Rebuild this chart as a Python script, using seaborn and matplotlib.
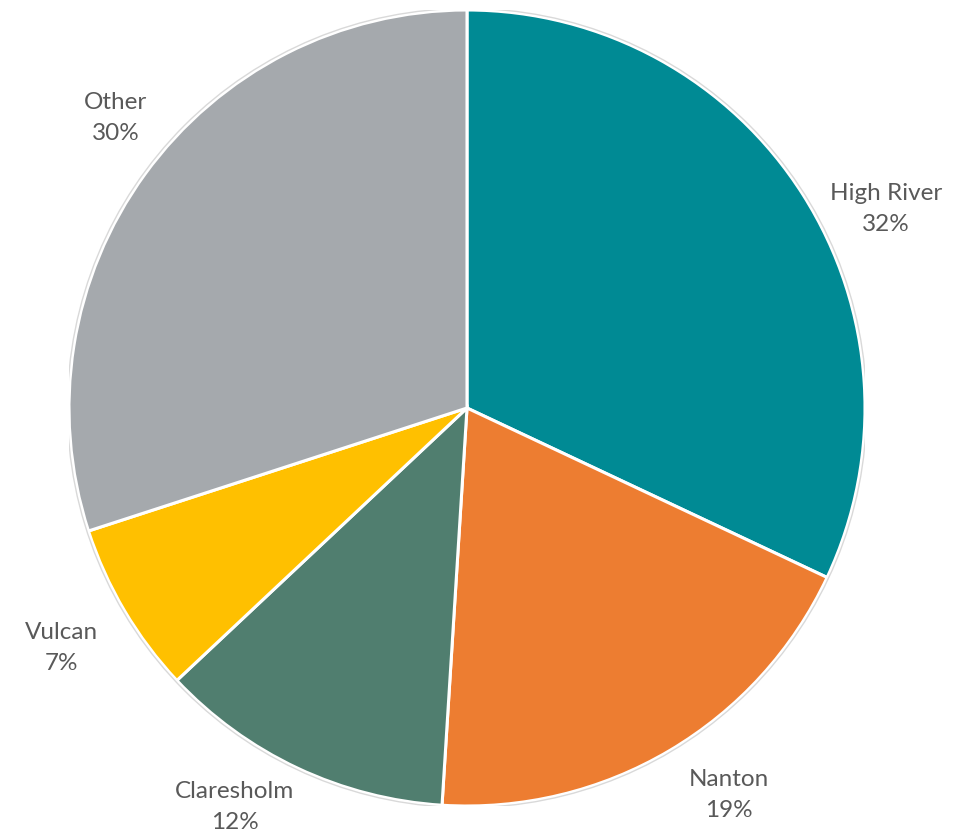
import matplotlib
matplotlib.use("Agg")
import matplotlib.pyplot as plt
import seaborn as sns
import numpy as np

# dane z wykresu
towns = ["High River", "Nanton", "Claresholm", "Vulcan", "Other"]
shares = [32, 19, 12, 7, 30]
colors = ["#008A94", "#ED7D31", "#507E6F", "#FFC000", "#A5A9AD"]

# drobne przesuniecia etykiet (kat w stopniach, odleglosc od srodka)
label_nudge = [(-7, 1.165), (3.5, 1.175), (-5, 1.16), (0, 1.185), (-3.5, 1.145)]

sns.set_theme(style="white")
plt.rcParams["font.family"] = ["Lato", "DejaVu Sans"]

fig = plt.figure(figsize=(9.69, 8.35), dpi=100)
ax = fig.add_axes([69 / 969, 29 / 835, 796 / 969, 796 / 835])

wedges, _ = ax.pie(shares, colors=sns.color_palette(colors), startangle=90,
                   counterclock=False, radius=1,
                   wedgeprops=dict(edgecolor="white", linewidth=2.2))

# cienka szara obwodka dookola
outline = plt.Circle((0, 0), 1.004, fill=False, edgecolor="#D9D9D9", linewidth=1.0)
ax.add_patch(outline)

for w, name, val, (da, dist) in zip(wedges, towns, shares, label_nudge):
    mid = np.deg2rad((w.theta1 + w.theta2) / 2 + da)
    ax.text(dist * np.cos(mid), dist * np.sin(mid), f"{name}\n{val}%",
            ha="center", va="center", fontsize=17.5, color="#595959",
            linespacing=1.6)

ax.set_xlim(-1, 1)
ax.set_ylim(-1, 1)
ax.set_aspect("auto")
ax.axis("off")

fig.savefig("out.png", dpi=100)
